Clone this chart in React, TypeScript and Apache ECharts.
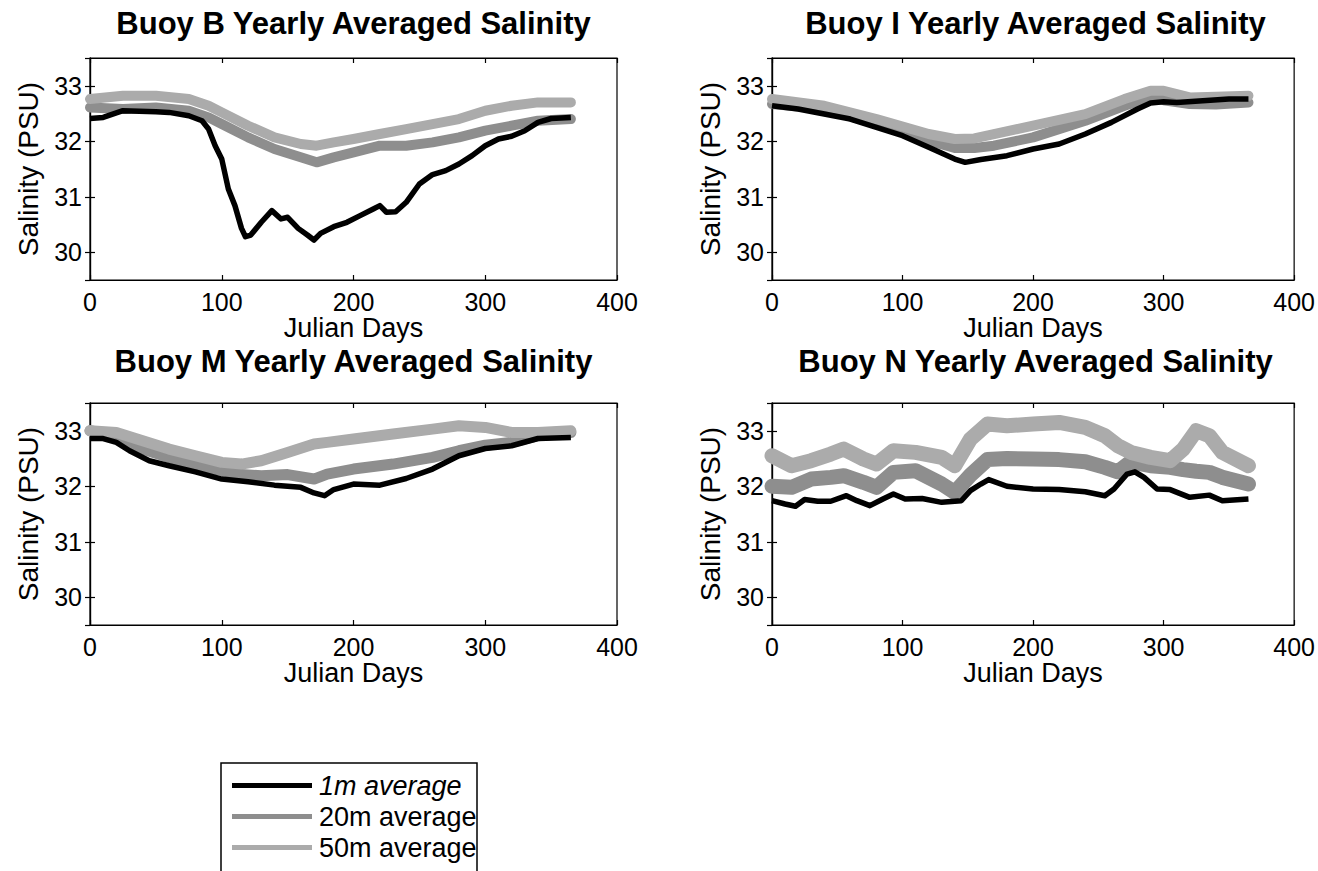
import React, { useEffect, useRef } from "react";
import * as echarts from "echarts";

// ---------- Data ----------
const panelTitles = [
  "Buoy B Yearly Averaged Salinity",
  "Buoy I Yearly Averaged Salinity",
  "Buoy M Yearly Averaged Salinity",
  "Buoy N Yearly Averaged Salinity",
];
const seriesNames = ["1m average", "20m average", "50m average"];
const xTicks = [0, 100, 200, 300, 400];

// Buoy B
const bDays1 = [0, 10, 25, 50, 60, 75, 85, 90, 95, 100, 105, 110, 115, 118, 122, 130, 138, 145, 150, 158, 165, 170, 175, 185, 195, 205, 215, 220, 225, 232, 240, 250, 260, 270, 280, 290, 300, 310, 320, 330, 340, 350, 365];
const b1m = [32.41, 32.43, 32.55, 32.53, 32.52, 32.46, 32.37, 32.22, 31.92, 31.68, 31.14, 30.84, 30.43, 30.28, 30.31, 30.54, 30.75, 30.6, 30.63, 30.43, 30.31, 30.22, 30.34, 30.46, 30.54, 30.66, 30.78, 30.84, 30.72, 30.73, 30.9, 31.23, 31.4, 31.47, 31.59, 31.74, 31.92, 32.04, 32.09, 32.19, 32.34, 32.41, 32.43];
const bDaysG = [0, 25, 50, 75, 90, 100, 120, 140, 160, 172, 185, 200, 220, 240, 260, 280, 300, 320, 340, 365];
const b20m = [32.61, 32.58, 32.61, 32.55, 32.43, 32.31, 32.07, 31.86, 31.71, 31.62, 31.71, 31.8, 31.92, 31.92, 31.98, 32.07, 32.19, 32.28, 32.37, 32.4];
const b50m = [32.76, 32.82, 32.82, 32.76, 32.64, 32.52, 32.28, 32.07, 31.95, 31.92, 31.98, 32.04, 32.13, 32.22, 32.31, 32.4, 32.55, 32.64, 32.7, 32.7];

// Buoy I
const iDays1 = [0, 20, 40, 60, 80, 100, 120, 140, 148, 160, 180, 200, 220, 240, 260, 280, 290, 300, 310, 330, 350, 365];
const i1m = [32.64, 32.58, 32.49, 32.4, 32.25, 32.1, 31.89, 31.68, 31.62, 31.67, 31.74, 31.86, 31.95, 32.13, 32.34, 32.58, 32.69, 32.71, 32.7, 32.73, 32.76, 32.76];
const iDaysG = [0, 40, 80, 120, 140, 155, 170, 200, 240, 270, 290, 300, 320, 340, 365];
const i20m = [32.67, 32.58, 32.31, 32.01, 31.88, 31.88, 31.92, 32.07, 32.37, 32.64, 32.79, 32.74, 32.67, 32.66, 32.7];
const i50m = [32.76, 32.64, 32.4, 32.13, 32.04, 32.05, 32.13, 32.28, 32.49, 32.76, 32.91, 32.91, 32.79, 32.8, 32.82];

// Buoy M
const mDays1 = [0, 10, 20, 30, 45, 60, 80, 100, 120, 140, 160, 170, 178, 185, 200, 220, 240, 260, 280, 300, 320, 340, 365];
const m1m = [32.86, 32.86, 32.79, 32.64, 32.46, 32.37, 32.26, 32.13, 32.08, 32.02, 31.98, 31.88, 31.83, 31.94, 32.04, 32.02, 32.14, 32.31, 32.55, 32.68, 32.73, 32.86, 32.88];
const mDaysG = [0, 20, 40, 60, 80, 100, 115, 130, 150, 170, 180, 200, 230, 260, 280, 300, 320, 340, 365];
const m20m = [33.0, 32.91, 32.67, 32.52, 32.37, 32.28, 32.21, 32.19, 32.21, 32.13, 32.22, 32.31, 32.4, 32.52, 32.64, 32.74, 32.79, 32.91, 32.97];
const m50m = [33.0, 32.97, 32.82, 32.67, 32.55, 32.43, 32.4, 32.46, 32.61, 32.76, 32.79, 32.85, 32.94, 33.03, 33.09, 33.06, 32.97, 32.97, 33.0];

// Buoy N
const nDays1 = [0, 10, 18, 25, 35, 45, 57, 65, 75, 85, 93, 102, 115, 130, 145, 152, 160, 166, 180, 200, 220, 240, 255, 262, 272, 278, 285, 295, 305, 320, 335, 345, 365];
const n1m = [31.74, 31.68, 31.64, 31.76, 31.73, 31.73, 31.83, 31.74, 31.65, 31.77, 31.86, 31.77, 31.78, 31.71, 31.74, 31.92, 32.04, 32.12, 32.0, 31.95, 31.94, 31.9, 31.83, 31.95, 32.22, 32.26, 32.16, 31.95, 31.94, 31.8, 31.84, 31.74, 31.77];
const nDaysG = [0, 15, 30, 45, 55, 70, 80, 93, 110, 130, 140, 152, 165, 180, 200, 220, 240, 255, 265, 275, 290, 305, 315, 325, 335, 345, 365];
const n20m = [32.0, 31.98, 32.13, 32.16, 32.19, 32.07, 31.98, 32.25, 32.28, 32.04, 31.89, 32.2, 32.48, 32.5, 32.49, 32.48, 32.44, 32.34, 32.26, 32.44, 32.37, 32.34, 32.3, 32.27, 32.25, 32.16, 32.04];
const n50m = [32.55, 32.37, 32.46, 32.58, 32.67, 32.49, 32.4, 32.64, 32.61, 32.52, 32.37, 32.85, 33.12, 33.09, 33.12, 33.15, 33.06, 32.91, 32.73, 32.61, 32.52, 32.46, 32.67, 33.0, 32.91, 32.61, 32.37];

const panels = [
  { days1: bDays1, v1: b1m, daysG: bDaysG, v20: b20m, v50: b50m, band: 10 },
  { days1: iDays1, v1: i1m, daysG: iDaysG, v20: i20m, v50: i50m, band: 10 },
  { days1: mDays1, v1: m1m, daysG: mDaysG, v20: m20m, v50: m50m, band: 11 },
  { days1: nDays1, v1: n1m, daysG: nDaysG, v20: n20m, v50: n50m, band: 15 },
];

// ---------- Styling ----------
const FONT = "Liberation Sans";
const BLACK = "#000000";
const GRAY20 = "#8e8e8e";
const GRAY50 = "#ababab";
const gridBoxes = [
  { left: 90, top: 58, width: 527, height: 222 },
  { left: 772, top: 58, width: 527, height: 222 },
  { left: 90, top: 403, width: 527, height: 222 },
  { left: 772, top: 403, width: 527, height: 222 },
];
const titleTops = [8, 8, 346, 346];

function zip(xs: number[], ys: number[]) {
  return xs.map((x, i) => [x, ys[i]]);
}

export default function App() {
  const ref = useRef<HTMLDivElement>(null);

  useEffect(() => {
    if (!ref.current) return;
    const chart = echarts.init(ref.current, undefined, { renderer: "svg" });

    const grid: any[] = [];
    const xAxis: any[] = [];
    const yAxis: any[] = [];
    const series: any[] = [];
    const title: any[] = [];

    gridBoxes.forEach((g, i) => {
      grid.push({
        ...g,
        show: true,
        borderColor: BLACK,
        borderWidth: 1.2,
        backgroundColor: "#ffffff",
      });
      title.push({
        text: panelTitles[i],
        left: g.left + g.width / 2,
        top: titleTops[i],
        textAlign: "center",
        padding: 0,
        textStyle: { fontFamily: FONT, fontSize: 31, fontWeight: "bold", color: BLACK },
      });
      const common = {
        gridIndex: i,
        axisLine: { show: true, lineStyle: { color: BLACK, width: 1.2 } },
        axisTick: { show: true, inside: true, length: 5, lineStyle: { color: BLACK, width: 1.2 } },
        splitLine: { show: false },
      };
      xAxis.push({
        ...common,
        type: "value",
        position: "bottom",
        min: xTicks[0],
        max: xTicks[xTicks.length - 1],
        interval: 100,
        axisLabel: { fontFamily: FONT, fontSize: 25, color: BLACK, margin: 9 },
        name: "Julian Days",
        nameLocation: "middle",
        nameGap: 33,
        nameTextStyle: { fontFamily: FONT, fontSize: 27, color: BLACK },
      });
      xAxis.push({
        ...common,
        type: "value",
        position: "top",
        min: xTicks[0],
        max: xTicks[xTicks.length - 1],
        interval: 100,
        axisLabel: { show: false },
      });
      yAxis.push({
        ...common,
        type: "value",
        position: "left",
        min: 29.5,
        max: 33.5,
        splitNumber: 4,
        axisLabel: {
          fontFamily: FONT,
          fontSize: 25,
          color: BLACK,
          margin: 8,
          showMinLabel: false,
          showMaxLabel: false,
          formatter: (v: number) => (Number.isInteger(v) ? String(v) : ""),
        },
        name: "Salinity (PSU)",
        nameLocation: "middle",
        nameGap: 48,
        nameRotate: 90,
        nameTextStyle: { fontFamily: FONT, fontSize: 28, color: BLACK },
      });
      yAxis.push({
        ...common,
        type: "value",
        position: "right",
        min: 29.5,
        max: 33.5,
        splitNumber: 4,
        axisLabel: { show: false },
      });

      const p = panels[i];
      const base = { type: "line", xAxisIndex: 2 * i, yAxisIndex: 2 * i, showSymbol: false, symbol: "none", silent: true };
      series.push({
        ...base,
        name: seriesNames[1],
        data: zip(p.daysG, p.v20),
        lineStyle: { color: GRAY20, width: p.band, join: "round", cap: "round" },
        itemStyle: { color: GRAY20 },
        z: 2,
      });
      series.push({
        ...base,
        name: seriesNames[2],
        data: zip(p.daysG, p.v50),
        lineStyle: { color: GRAY50, width: p.band, join: "round", cap: "round" },
        itemStyle: { color: GRAY50 },
        z: 3,
      });
      series.push({
        ...base,
        name: seriesNames[0],
        data: zip(p.days1, p.v1),
        lineStyle: { color: BLACK, width: 5.5, join: "round" },
        itemStyle: { color: BLACK },
        z: 4,
      });
    });

    chart.setOption({
      animation: false,
      backgroundColor: "#ffffff",
      textStyle: { fontFamily: FONT },
      title,
      grid,
      xAxis,
      yAxis,
      series,
      legend: {
        orient: "vertical",
        left: 232,
        top: 772,
        padding: 0,
        itemWidth: 80,
        itemHeight: 5,
        itemGap: 4,
        icon: "rect",
        selectedMode: false,
        textStyle: { fontFamily: FONT, fontSize: 27, color: BLACK, padding: [0, 0, 0, 2] },
        data: [
          { name: seriesNames[0], textStyle: { fontStyle: "italic" } },
          { name: seriesNames[1] },
          { name: seriesNames[2] },
        ],
      },
      graphic: [
        {
          type: "rect",
          z: 50,
          shape: { x: 221, y: 763, width: 256, height: 130 },
          style: { fill: "none", stroke: BLACK, lineWidth: 1.5 },
          silent: true,
        },
      ],
    });

    return () => chart.dispose();
  }, []);

  return (
    <div
      ref={ref}
      style={{ position: "fixed", left: 0, top: 0, width: 1318, height: 871, background: "#fff" }}
    />
  );
}
